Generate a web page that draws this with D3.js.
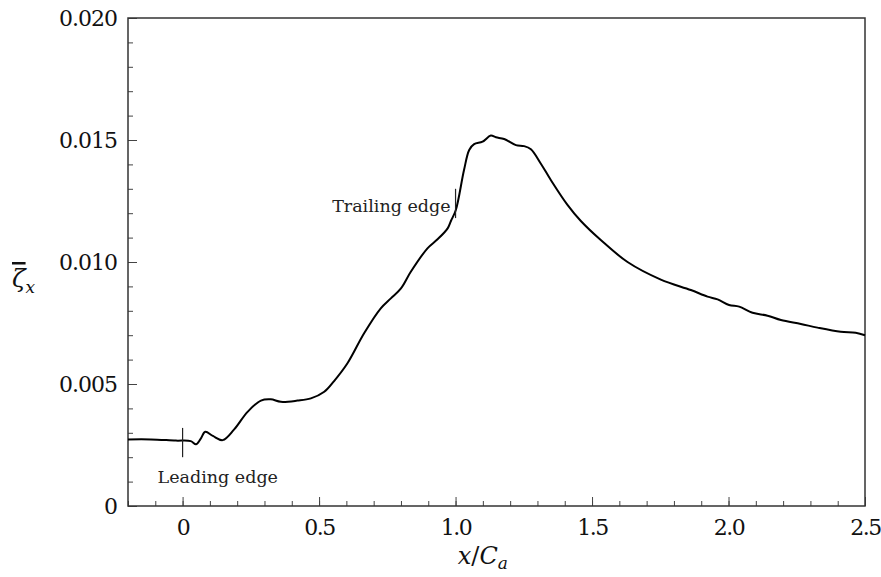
<!DOCTYPE html>
<html>
<head>
<meta charset="utf-8">
<script src="https://cdn.jsdelivr.net/npm/d3@7"></script>
<style>
  body { margin: 0; background: #fff; }
  svg { display: block; }
</style>
</head>
<body>
<svg width="881" height="577"></svg>
<script>
// streamwise position x/Ca and mean vorticity
const xPos = [-0.2, -0.116, -0.025, 0.03, 0.049, 0.066, 0.083, 0.111, 0.147, 0.189, 0.238, 0.287,
  0.323, 0.36, 0.421, 0.47, 0.519, 0.555, 0.604, 0.665, 0.726, 0.763, 0.8, 0.836, 0.897, 0.934,
  0.971, 0.983, 1.001, 1.031, 1.05, 1.068, 1.099, 1.129, 1.148, 1.178, 1.221, 1.251, 1.276, 1.312,
  1.349, 1.41, 1.459, 1.532, 1.63, 1.752, 1.862, 1.923, 1.96, 2.002, 2.039, 2.088, 2.143, 2.192,
  2.265, 2.326, 2.411, 2.466, 2.5];
const zetaX = [0.00273, 0.00273, 0.00268, 0.00266, 0.00253, 0.00275, 0.00304, 0.00287, 0.0027, 0.00314,
  0.00386, 0.00432, 0.00437, 0.00427, 0.00432, 0.00441, 0.00468, 0.00512, 0.00585, 0.00708, 0.0081,
  0.00851, 0.00892, 0.0096, 0.01056, 0.01093, 0.01138, 0.01168, 0.01213, 0.01377, 0.01459, 0.01483,
  0.01493, 0.01518, 0.01511, 0.01504, 0.01479, 0.01475, 0.01462, 0.01404, 0.01336, 0.01234, 0.01168,
  0.0109, 0.01, 0.00928, 0.00885, 0.00858, 0.00847, 0.00824, 0.00817, 0.00792, 0.0078, 0.00762,
  0.00746, 0.00731, 0.00714, 0.0071, 0.007];

// blade edge markers
const edgeNames = ["Leading edge", "Trailing edge"];
const edgeX = [0, 1.0];
const edgeYLow = [0.0020, 0.0118];
const edgeYHigh = [0.0032, 0.0130];

const xTicks = [0, 0.5, 1.0, 1.5, 2.0, 2.5];
const xTickLabels = ["0", "0.5", "1.0", "1.5", "2.0", "2.5"];
const yTicks = [0, 0.005, 0.010, 0.015, 0.020];
const yTickLabels = ["0", "0.005", "0.010", "0.015", "0.020"];

const data = xPos.map((x, i) => ({ x: x, y: zetaX[i] }));

const serif = "DejaVu Serif";
const margin = { top: 18, right: 16, bottom: 71, left: 128 };
const width = 881, height = 577;

const svg = d3.select("svg");

const x = d3.scaleLinear()
  .domain([-0.2, 2.5])
  .range([margin.left, width - margin.right]);

const y = d3.scaleLinear()
  .domain([0, 0.02])
  .range([height - margin.bottom, margin.top]);

// minor ticks
svg.append("g")
  .attr("transform", `translate(0,${height - margin.bottom})`)
  .call(d3.axisBottom(x).ticks(27).tickSize(-5).tickFormat(""))
  .call(g => g.select(".domain").remove())
  .call(g => g.selectAll("line").attr("stroke", "#444"));

svg.append("g")
  .attr("transform", `translate(${margin.left},0)`)
  .call(d3.axisLeft(y).ticks(20).tickSize(-5).tickFormat(""))
  .call(g => g.select(".domain").remove())
  .call(g => g.selectAll("line").attr("stroke", "#444"));

// major ticks + labels
svg.append("g")
  .attr("transform", `translate(0,${height - margin.bottom})`)
  .call(d3.axisBottom(x).tickValues(xTicks).tickSize(-9).tickPadding(13)
    .tickFormat((d, i) => xTickLabels[i]))
  .call(g => g.attr("font-family", serif))
  .call(g => g.select(".domain").remove())
  .call(g => g.selectAll("line").attr("stroke", "#444"))
  .call(g => g.selectAll("text").attr("font-size", 22).attr("letter-spacing", -1.5)
    .attr("fill", "#111"));

svg.append("g")
  .attr("transform", `translate(${margin.left},0)`)
  .call(d3.axisLeft(y).tickValues(yTicks).tickSize(-9).tickPadding(11)
    .tickFormat((d, i) => yTickLabels[i]))
  .call(g => g.attr("font-family", serif))
  .call(g => g.select(".domain").remove())
  .call(g => g.selectAll("line").attr("stroke", "#444"))
  .call(g => g.selectAll("text").attr("font-size", 22).attr("letter-spacing", -1)
    .attr("fill", "#111"));

// frame
svg.append("rect")
  .attr("x", x.range()[0])
  .attr("y", y.range()[1])
  .attr("width", x.range()[1] - x.range()[0])
  .attr("height", y.range()[0] - y.range()[1])
  .attr("fill", "none")
  .attr("stroke", "#333")
  .attr("stroke-width", 1.5);

// curve
const line = d3.line()
  .x(d => x(d.x))
  .y(d => y(d.y))
  .curve(d3.curveCatmullRom.alpha(0.5));

svg.append("path")
  .datum(data)
  .attr("fill", "none")
  .attr("stroke", "#000")
  .attr("stroke-width", 2)
  .attr("d", line);

// edge markers
svg.selectAll(".edge-line")
  .data(edgeX)
  .enter()
  .append("line")
  .attr("class", "edge-line")
  .attr("x1", d => x(d))
  .attr("x2", d => x(d))
  .attr("y1", (d, i) => y(edgeYLow[i]))
  .attr("y2", (d, i) => y(edgeYHigh[i]))
  .attr("stroke", "#222")
  .attr("stroke-width", 1.2);

svg.append("text")
  .attr("x", x(edgeX[0]) - 25)
  .attr("y", y(edgeYLow[0]) + 26)
  .attr("font-family", serif)
  .attr("font-size", 17.5)
  .attr("fill", "#222")
  .text(edgeNames[0]);

svg.append("text")
  .attr("x", x(edgeX[1]) - 5)
  .attr("y", y(edgeYLow[1]) - 6)
  .attr("text-anchor", "end")
  .attr("font-family", serif)
  .attr("font-size", 17.5)
  .attr("fill", "#222")
  .text(edgeNames[1]);

// axis titles
const xt = svg.append("text")
  .attr("x", x(1.1))
  .attr("y", 564)
  .attr("text-anchor", "middle")
  .attr("font-family", serif)
  .attr("font-size", 24)
  .attr("fill", "#111");
xt.append("tspan").attr("font-style", "italic").text("x");
xt.append("tspan").text("/");
xt.append("tspan").attr("font-style", "italic").text("C");
xt.append("tspan").attr("font-style", "italic").attr("font-size", 17).attr("dy", 5).text("a");

const yt = svg.append("text")
  .attr("x", 12)
  .attr("y", 287)
  .attr("font-family", serif)
  .attr("font-size", 25)
  .attr("fill", "#111");
yt.append("tspan").attr("font-style", "italic").attr("text-decoration", "overline").text("ζ");
yt.append("tspan").attr("font-style", "italic").attr("font-size", 17).attr("dy", 6).text("x");
</script>
</body>
</html>
